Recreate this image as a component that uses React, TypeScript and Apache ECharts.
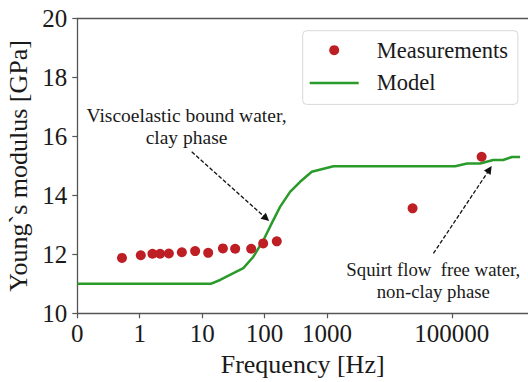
import React, { useEffect, useRef } from "react";
import * as echarts from "echarts";

const measFreq = [0.52, 1.04, 1.6, 2.12, 2.93, 4.73, 7.72, 12.5, 21.5, 33.8, 61, 95, 157, 23500, 300000];
const measE = [11.88, 11.97, 12.02, 12.02, 12.03, 12.07, 12.11, 12.05, 12.2, 12.19, 12.19, 12.37, 12.44, 13.56, 15.31];

const modelFreq = [0.1, 13.7, 19.4, 45.7, 66.2, 95.7, 130, 177, 256, 371, 570, 1268, 113000, 176000, 284000, 459000, 664000, 916000, 1240000];
const modelE = [11.0, 11.0, 11.13, 11.53, 11.92, 12.48, 13.05, 13.61, 14.12, 14.46, 14.8, 14.99, 14.99, 15.08, 15.08, 15.2, 15.2, 15.3, 15.3];

const xTickValues = [0.1, 1, 10, 100, 1000, 100000];
const yTicks = [10, 12, 14, 16, 18, 20];

const arrow1 = { from: [6.81, 15.48], to: [106, 13.22] };
const arrow2 = { from: [50700, 12.03], to: [401000, 14.88] };

const FONT = '"Liberation Serif", "Times New Roman", serif';
const TEXT = "#1a1a1a";
const SPINE = "#555";
const GREEN = "#2a9a2a";
const RED = "#bd1f24";

export default function App() {
  const ref = useRef<HTMLDivElement>(null);
  useEffect(() => {
    if (!ref.current) return;
    const chart = echarts.init(ref.current, null, { renderer: "svg" });
    const meas = measFreq.map((f, i) => [f, measE[i]]);
    const model = modelFreq.map((f, i) => [f, modelE[i]]);
    const arrowLine = (a: any) => [
      { coord: a.from, symbol: "none" },
      { coord: a.to, symbol: "triangle" },
    ];
    chart.setOption({
      animation: false,
      grid: { left: 77.3, top: 18.5, right: 0, bottom: 68.7, outerBoundsMode: "none", containLabel: false },
      legend: {
        orient: "vertical",
        left: 302.7,
        top: 30.7,
        padding: [8, 10, 10, 7],
        itemWidth: 49,
        itemHeight: 10,
        itemGap: 9.7,
        backgroundColor: "#fff",
        borderColor: "#d8d8d8",
        borderWidth: 1,
        borderRadius: 4,
        textStyle: { fontFamily: FONT, fontSize: 22.5, color: TEXT, padding: [0, 0, 0, 13] },
        data: [
          { name: "Measurements", icon: "circle", itemStyle: { color: RED } },
          { name: "Model", icon: "path://M0 0H49V2.5H0Z", itemStyle: { color: GREEN, borderWidth: 0 } },
        ],
      },
      xAxis: [
        {
          type: "log",
          logBase: 10,
          min: 0.1,
          max: 1660000,
          name: "Frequency [Hz]",
          nameLocation: "middle",
          nameGap: 30,
          nameTextStyle: { fontFamily: FONT, fontSize: 26, color: TEXT },
          axisLine: { show: true, lineStyle: { color: SPINE, width: 1.3 } },
          axisTick: { show: true, length: 5, lineStyle: { color: SPINE, width: 1.2 }, customValues: xTickValues },
          axisLabel: {
            fontFamily: FONT,
            fontSize: 25,
            color: TEXT,
            margin: 8,
            customValues: xTickValues,
            formatter: (v: number) => (v < 1 ? "0" : String(Math.round(v))),
          },
          splitLine: { show: false },
          minorTick: { show: false },
          minorSplitLine: { show: false },
        },
        {
          type: "value",
          position: "top",
          min: 0,
          max: 1,
          axisLine: { show: true, onZero: false, lineStyle: { color: SPINE, width: 1.3 } },
          axisTick: { show: false },
          axisLabel: { show: false },
          splitLine: { show: false },
        },
      ],
      yAxis: {
        type: "value",
        min: 10,
        max: 20,
        interval: 2,
        name: "Young`s modulus [GPa]",
        nameLocation: "middle",
        nameGap: 41,
        nameTextStyle: { fontFamily: FONT, fontSize: 26, color: TEXT },
        axisLine: { show: true, lineStyle: { color: SPINE, width: 1.3 } },
        axisTick: { show: true, length: 5, lineStyle: { color: SPINE, width: 1.2 } },
        axisLabel: {
          fontFamily: FONT,
          fontSize: 25,
          color: TEXT,
          margin: 10,
          formatter: (v: number) => (yTicks.includes(v) ? String(v) : ""),
        },
        splitLine: { show: false },
      },
      series: [
        {
          name: "Model",
          type: "line",
          data: model,
          symbol: "none",
          lineStyle: { color: GREEN, width: 2.5 },
          itemStyle: { color: GREEN },
          z: 2,
          markLine: {
            silent: true,
            symbolSize: 8,
            label: { show: false },
            lineStyle: { color: "#111", type: [4, 2], width: 1.3 },
            data: [arrowLine(arrow1), arrowLine(arrow2)],
          },
        },
        {
          name: "Measurements",
          type: "scatter",
          data: meas,
          symbol: "circle",
          symbolSize: 10,
          itemStyle: { color: RED, opacity: 1 },
          z: 3,
        },
      ],
      graphic: [
        {
          type: "text",
          x: 186.5,
          y: 126.4,
          style: {
            text: "Viscoelastic bound water,\nclay phase",
            align: "center",
            verticalAlign: "middle",
            font: `19.5px ${FONT}`,
            lineHeight: 22.7,
            fill: TEXT,
          },
        },
        {
          type: "text",
          x: 433.3,
          y: 280.8,
          style: {
            text: "Squirt flow  free water,\nnon-clay phase",
            align: "center",
            verticalAlign: "middle",
            font: `18.8px ${FONT}`,
            lineHeight: 21.7,
            fill: TEXT,
          },
        },
      ],
    });
    return () => chart.dispose();
  }, []);
  return <div ref={ref} style={{ width: 528, height: 382, position: "absolute", left: 0, top: 0 }} />;
}
